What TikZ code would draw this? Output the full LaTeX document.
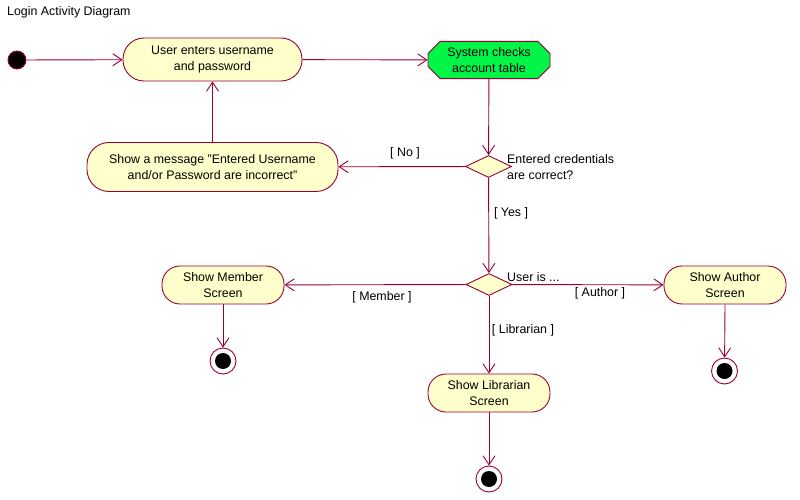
\documentclass[tikz,border=0pt]{standalone}
\usepackage{fontspec}
\setmainfont{Liberation Sans}
\usetikzlibrary{arrows.meta,shapes.geometric,shapes.misc}
\definecolor{edge}{RGB}{153,0,51}
\definecolor{actfill}{RGB}{255,255,204}
\definecolor{greenfill}{RGB}{0,245,72}
\tikzset{
  lbl/.style={font=\fontsize{12.4}{16}\selectfont, inner sep=0pt},
  act/.style={draw=edge, line width=0.9pt, fill=actfill, minimum width=122pt, minimum height=38pt,
    rounded corners=18pt, align=center, font=\fontsize{12.4}{16}\selectfont, inner sep=0pt},
  chk/.style={draw=edge, line width=0.9pt, fill=greenfill, chamfered rectangle, chamfered rectangle xsep=6pt,
    chamfered rectangle ysep=6pt, minimum width=122pt, minimum height=37pt, align=center,
    font=\fontsize{12.4}{16}\selectfont, inner sep=0pt},
  dec/.style={draw=edge, line width=0.9pt, fill=actfill, diamond, minimum width=46pt, minimum height=22pt, inner sep=0pt},
  startnode/.style={circle, draw=edge, line width=0.9pt, fill=black, minimum size=18pt, inner sep=0pt},
  endnode/.style={circle, draw=edge, line width=0.9pt, fill=white, minimum size=26pt, inner sep=0pt,
    path picture={\fill[black] (path picture bounding box.center) circle (8pt);}},
  flow/.style={draw=edge, line width=0.9pt, -{Straight Barb[length=9pt,width=12pt,line width=0.9pt]}},
  plain/.style={draw=edge, line width=0.9pt}
}
\begin{document}
\begin{tikzpicture}[x=1pt,y=-1pt]
\fill[white] (0,0) rectangle (800,500);
\useasboundingbox (0,0) rectangle (800,500);
\node[lbl, anchor=west] (title) at (7,12) {Login Activity Diagram};

\node[startnode] (start) at (17,60) {};
\node[act, minimum width=179pt, minimum height=43pt, rounded corners=21pt] (enter) at (212.5,59.5) {User enters username\\and password};
\node[chk] (check) at (489,60) {System checks\\account table};
\node[dec] (d1) at (488.5,166.5) {};
\node[act, minimum width=251pt, minimum height=49pt, rounded corners=22pt] (msg) at (212.5,167) {Show a message "Entered Username\\and/or Password are incorrect"};
\node[dec] (d2) at (489,284.5) {};
\node[act] (member) at (223,285) {Show Member\\Screen};
\node[act] (author) at (725,285) {Show Author\\Screen};
\node[act] (libr) at (489,393) {Show Librarian\\Screen};
\node[endnode] (e1) at (223,361) {};
\node[endnode] (e2) at (724.5,371) {};
\node[endnode] (e3) at (489,479) {};

\node[lbl, anchor=west, align=left] (q1) at (507,167) {Entered credentials\\are correct?};
\node[lbl, anchor=west] (q2) at (507,277) {User is ...};
\node[lbl] (lno) at (405,153) {[ No ]};
\node[lbl] (lyes) at (511,213) {[ Yes ]};
\node[lbl] (lmem) at (382,297) {[ Member ]};
\node[lbl] (laut) at (600,293) {[ Author ]};
\node[lbl] (llib) at (523,330) {[ Librarian ]};

\draw[flow] (start) -- (enter);
\draw[flow] (enter) -- (check);
\draw[flow] (check) -- (d1);
\draw[flow] (d1) -- (msg);
\draw[flow] (msg) -- (enter);
\draw[flow] (d1) -- (d2);
\draw[flow] (d2) -- (member);
\draw[flow] (d2) -- (author);
\draw[flow] (d2) -- (libr);
\draw[flow] (member) -- (e1);
\draw[flow] (author.south) -- (e2);
\draw[flow] (libr) -- (e3);
\end{tikzpicture}
\end{document}
